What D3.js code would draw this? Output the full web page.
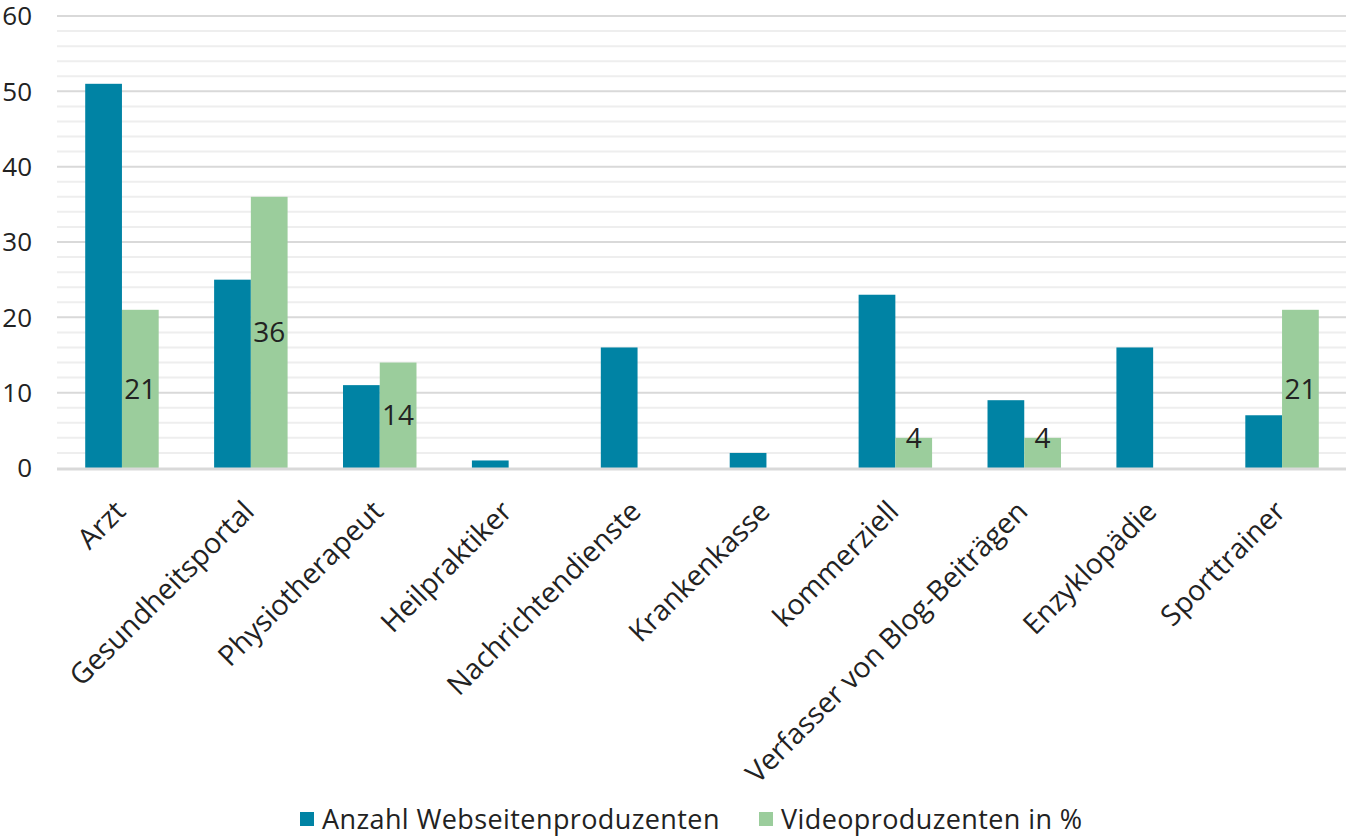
<!DOCTYPE html>
<html>
<head>
<meta charset="utf-8">
<script src="https://cdn.jsdelivr.net/npm/d3@7"></script>
<style>
  body { margin: 0; background: #fff; }
  svg { display: block; font-family: "Open Sans", sans-serif; }
</style>
</head>
<body>
<div id="chart"></div>
<script>
// Daten
const kategorien = ["Arzt", "Gesundheitsportal", "Physiotherapeut", "Heilpraktiker", "Nachrichtendienste",
  "Krankenkasse", "kommerziell", "Verfasser von Blog-Beiträgen", "Enzyklopädie", "Sporttrainer"];
const webseiten = [51, 25, 11, 1, 16, 2, 23, 9, 16, 7];
const video = [21, 36, 14, 0, 0, 0, 4, 4, 0, 21];
const serien = ["Anzahl Webseitenproduzenten", "Videoproduzenten in %"];
const yTicks = [0, 10, 20, 30, 40, 50, 60];

const width = 1346, height = 837;
const farben = ["#0083a4", "#9bcd9c"];

const svg = d3.select("#chart").append("svg")
  .attr("width", width)
  .attr("height", height);

const x = d3.scaleBand()
  .domain(kategorien)
  .range([57.5, 1346.5])
  .paddingInner(0.43)
  .paddingOuter(0.215);

const xs = d3.scaleBand()
  .domain(serien)
  .range([0, x.bandwidth()]);

const y = d3.scaleLinear()
  .domain([0, 60])
  .range([468, 16]);

// Gitterlinien (alle 2 Einheiten, kräftiger alle 10)
svg.append("g")
  .selectAll("line")
  .data(d3.range(2, 61, 2))
  .join("line")
  .attr("x1", 57).attr("x2", width)
  .attr("y1", d => y(d)).attr("y2", d => y(d))
  .attr("stroke", d => d % 10 === 0 ? "#d9d9d9" : "#eeeeee")
  .attr("stroke-width", 2);

// Y-Achse
svg.append("g")
  .selectAll("text")
  .data(yTicks)
  .join("text")
  .attr("x", 32)
  .attr("y", d => y(d))
  .attr("dy", "0.36em")
  .attr("text-anchor", "end")
  .attr("font-size", 26)
  .attr("fill", "#222")
  .text(d => d);

// Balken
const gruppen = svg.append("g")
  .selectAll("g")
  .data(kategorien)
  .join("g")
  .attr("transform", d => `translate(${x(d)},0)`);

gruppen.append("rect")
  .attr("x", xs(serien[0]))
  .attr("width", xs.bandwidth())
  .attr("y", (d, i) => y(webseiten[i]))
  .attr("height", (d, i) => y(0) - y(webseiten[i]))
  .attr("fill", farben[0]);

gruppen.append("rect")
  .attr("x", xs(serien[1]))
  .attr("width", xs.bandwidth())
  .attr("y", (d, i) => y(video[i]))
  .attr("height", (d, i) => y(0) - y(video[i]))
  .attr("fill", farben[1]);

// Datenbeschriftungen (nur Videoproduzenten)
gruppen.filter((d, i) => video[i] > 0)
  .append("text")
  .attr("x", xs(serien[1]) + xs.bandwidth() / 2)
  .attr("y", d => {
    const v = video[kategorien.indexOf(d)];
    return Math.min((y(v) + y(0)) / 2, y(0) - 30);
  })
  .attr("dy", "0.36em")
  .attr("text-anchor", "middle")
  .attr("font-size", 28)
  .attr("fill", "#222")
  .text(d => video[kategorien.indexOf(d)]);

// Achsenlinie
svg.append("line")
  .attr("x1", 57).attr("x2", width)
  .attr("y1", y(0) + 1).attr("y2", y(0) + 1)
  .attr("stroke", "#d9d9d9")
  .attr("stroke-width", 3);

// Kategorienbeschriftungen, um 45° gedreht
svg.append("g")
  .selectAll("text")
  .data(kategorien)
  .join("text")
  .attr("transform", d => `translate(${x(d) + x.bandwidth() / 2 - 9},${499}) rotate(-45)`)
  .attr("text-anchor", "end")
  .attr("dy", "0.7em")
  .attr("font-size", 28.5)
  .attr("fill", "#222")
  .text(d => d);

// Legende
const legende = svg.append("g").attr("transform", "translate(0,819)");
const lx = [300, 759];
serien.forEach((s, i) => {
  legende.append("rect")
    .attr("x", lx[i]).attr("y", -7)
    .attr("width", 14).attr("height", 14)
    .attr("fill", farben[i]);
  legende.append("text")
    .attr("x", lx[i] + 22)
    .attr("y", 0)
    .attr("dy", "0.36em")
    .attr("font-size", 27)
    .attr("letter-spacing", 0.4)
    .attr("fill", "#222")
    .text(s);
});
</script>
</body>
</html>
